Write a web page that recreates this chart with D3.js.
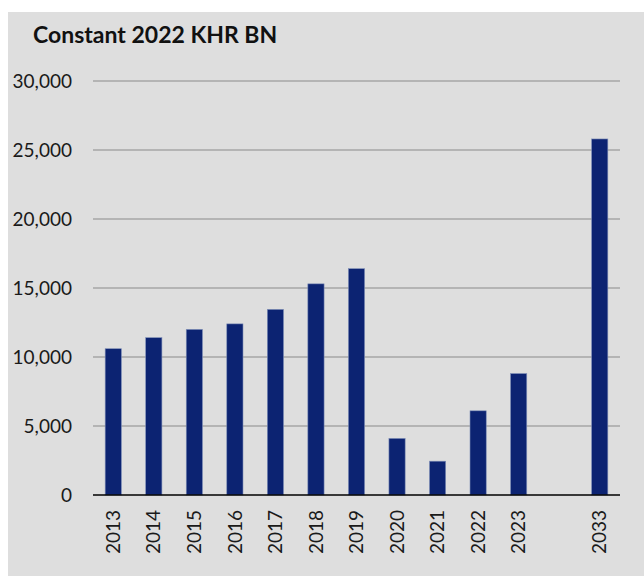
<!DOCTYPE html>
<html><head><meta charset="utf-8">
<script src="https://cdn.jsdelivr.net/npm/d3@7"></script>
<style>
html,body{margin:0;padding:0;background:#fff;}
svg{display:block;}
</style></head>
<body>
<svg id="c" width="644" height="576"></svg>
<script>
const categories = ["2013","2014","2015","2016","2017","2018","2019","2020","2021","2022","2023","","2033"];
const values = [10600, 11400, 12000, 12400, 13450, 15300, 16400, 4100, 2450, 6100, 8800, null, 25800];
const yTicks = [0, 5000, 10000, 15000, 20000, 25000, 30000];
const title = "Constant 2022 KHR BN";

const svg = d3.select("#c");
svg.append("rect").attr("x",8).attr("y",12).attr("width",636).attr("height",564).attr("fill","#dedede");

const x = d3.scaleBand().domain(categories.map((c,i)=>i)).range([93,620]).paddingInner(0.6).paddingOuter(0.3);
const y = d3.scaleLinear().domain([0,30000]).range([495,81]);
const font = "Lato, 'Open Sans', sans-serif";

// gridlines
svg.append("g").selectAll("line").data(yTicks.filter(d=>d>0)).join("line")
  .attr("x1",93).attr("x2",620).attr("y1",d=>y(d)).attr("y2",d=>y(d))
  .attr("stroke","#8a8a8a").attr("stroke-width",1.2);

// y labels
const yAxis = svg.append("g").attr("transform","translate(93,0)")
  .call(d3.axisLeft(y).tickValues(yTicks).tickSize(0).tickPadding(21).tickFormat(d3.format(",")));
yAxis.select(".domain").remove();
yAxis.selectAll("text").attr("font-family",font).attr("font-size",19).attr("fill","#1a1a1a");

// bars
svg.append("g").selectAll("rect").data(values.map((v,i)=>({v,i})).filter(d=>d.v!=null)).join("rect")
  .attr("x",d=>x(d.i)).attr("width",x.bandwidth())
  .attr("y",d=>y(d.v)).attr("height",d=>y(0)-y(d.v))
  .attr("fill","#0c2372").attr("stroke","#7f8fb8").attr("stroke-width",0.6);

// baseline
svg.append("line").attr("x1",93).attr("x2",620).attr("y1",y(0)).attr("y2",y(0))
  .attr("stroke","#000").attr("stroke-width",1.6);

// x labels
const xAxis = svg.append("g").attr("transform",`translate(0,${y(0)})`)
  .call(d3.axisBottom(x).tickSize(0).tickPadding(0).tickFormat(i=>categories[i]));
xAxis.select(".domain").remove();
xAxis.selectAll("text").attr("font-family",font).attr("font-size",19).attr("fill","#1a1a1a")
  .attr("transform","rotate(-90)").attr("text-anchor","end").attr("dy","0.35em").attr("x",-15).attr("y",0);

// title
svg.append("text").attr("x",33).attr("y",43).attr("font-family",font).attr("font-weight","bold")
  .attr("font-size",23).attr("fill","#111").text(title);
</script>
</body></html>
